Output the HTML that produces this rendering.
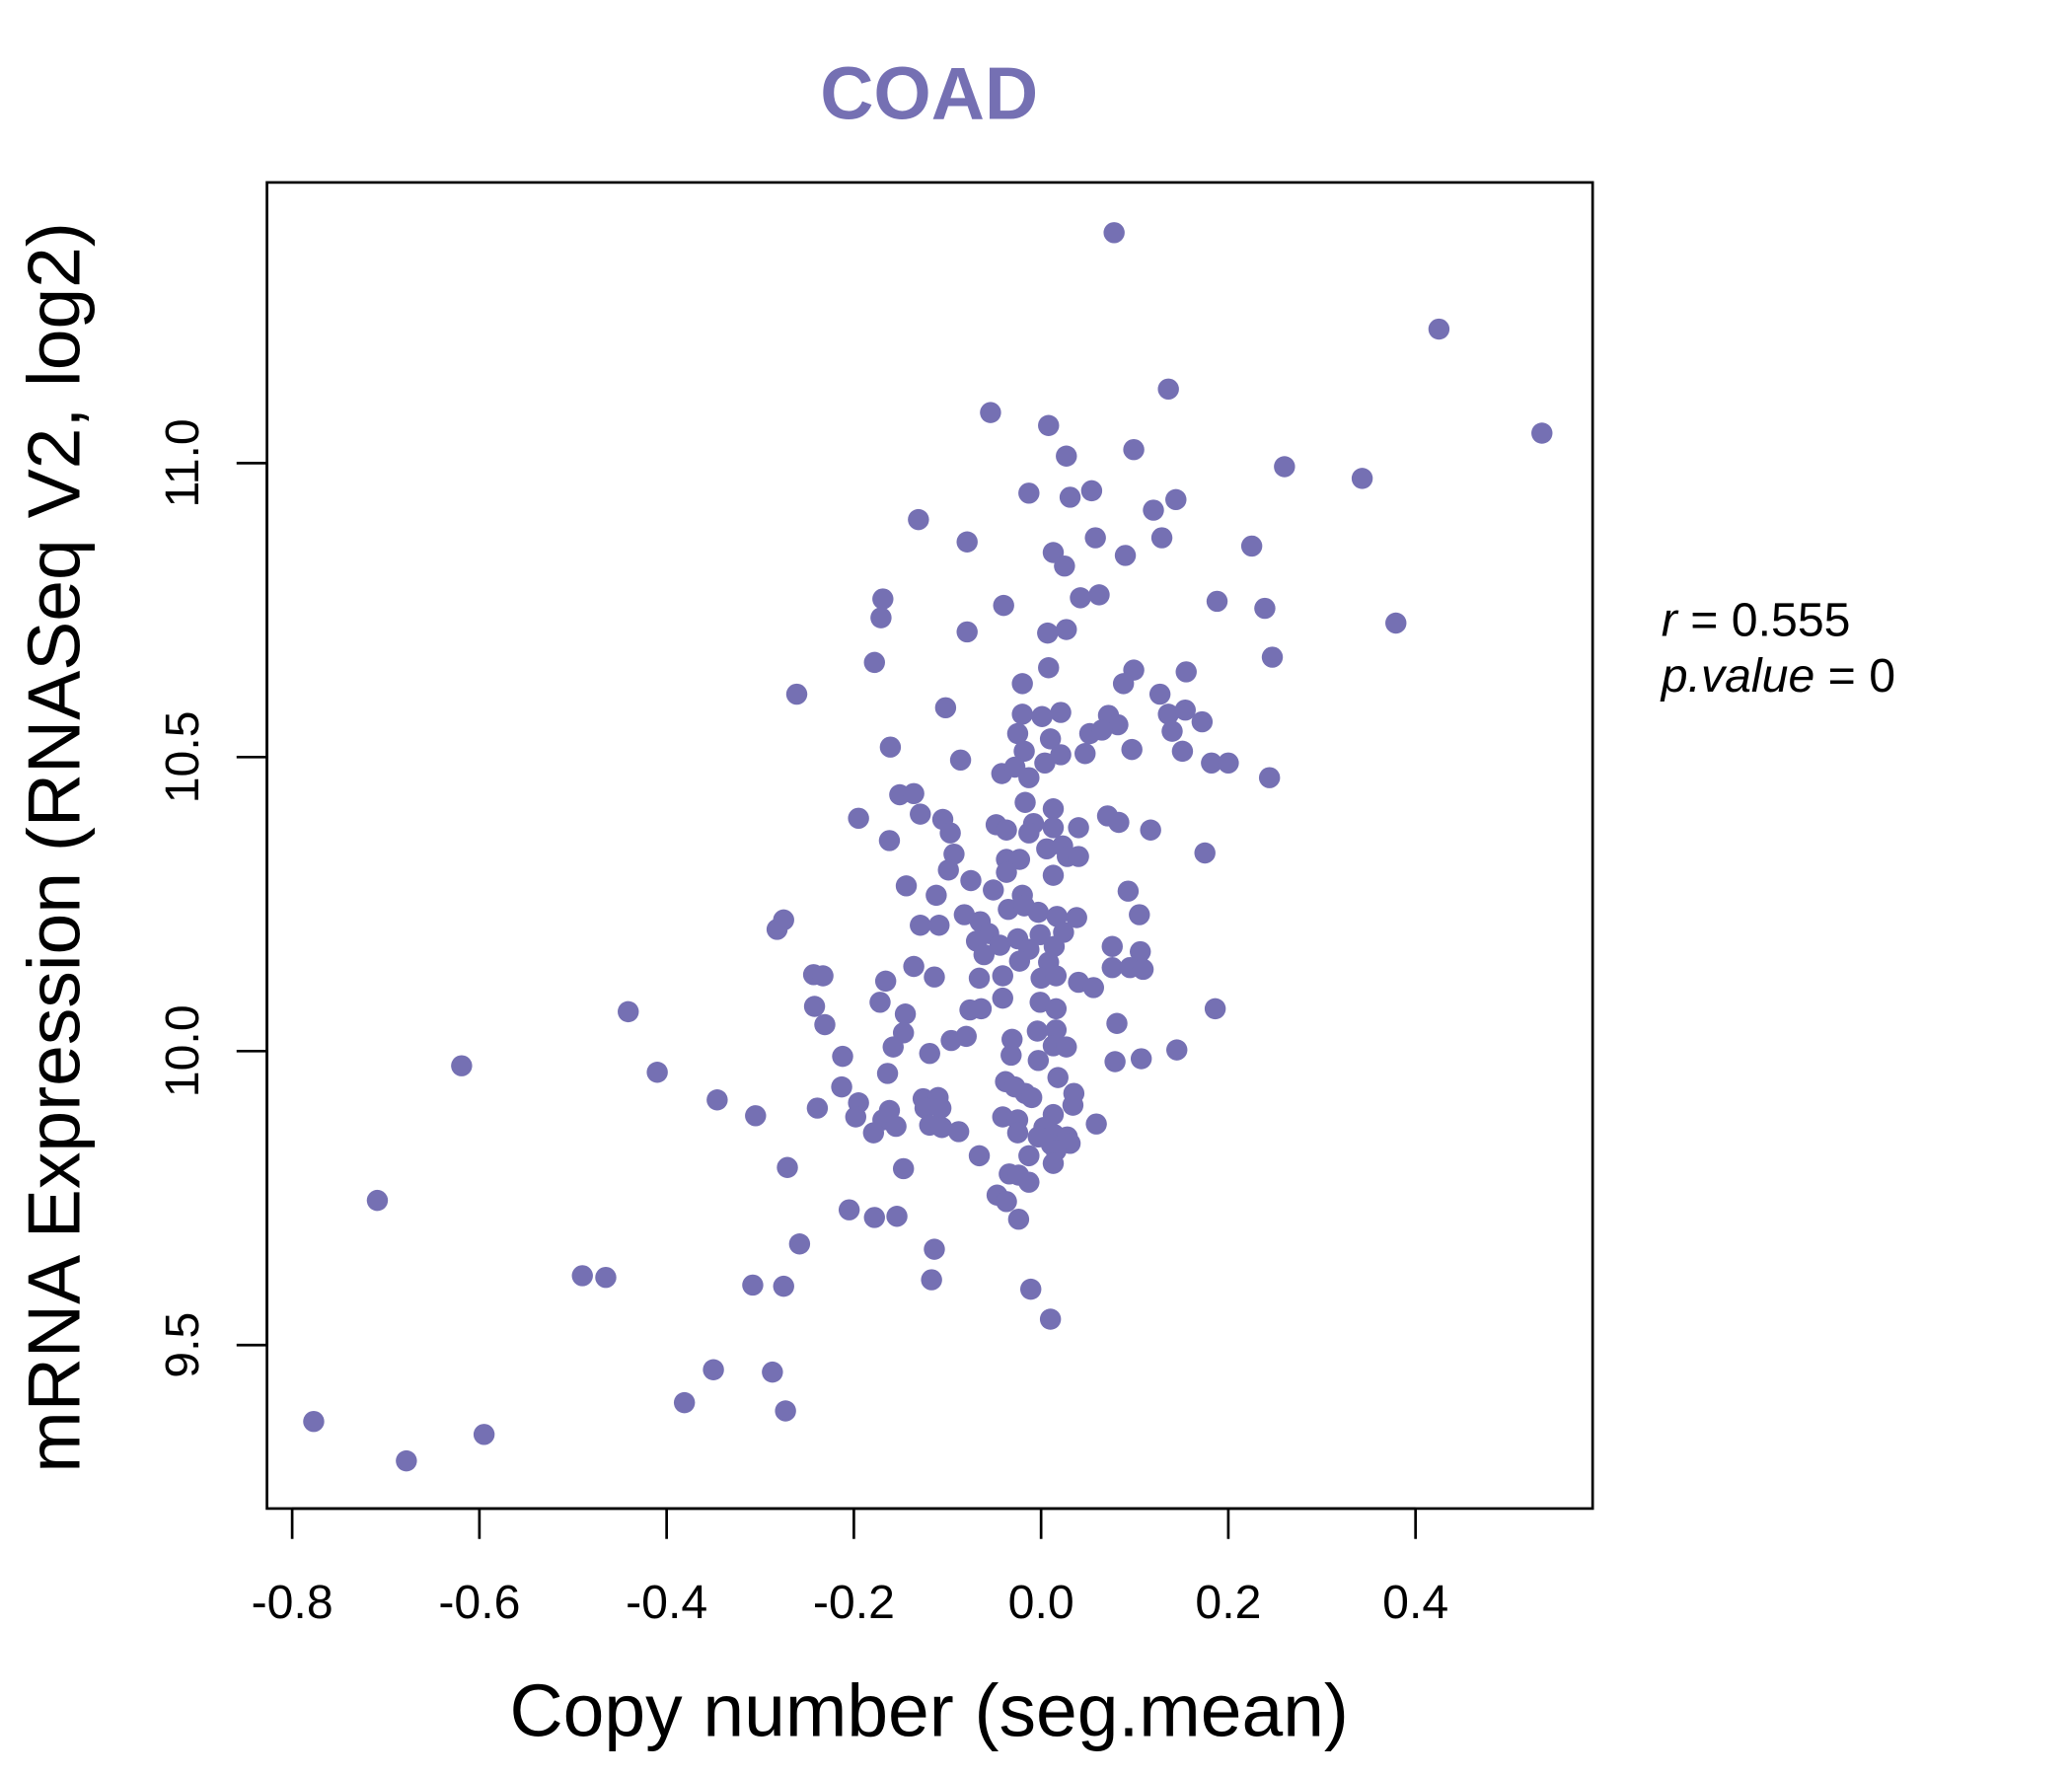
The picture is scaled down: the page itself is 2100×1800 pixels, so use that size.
<!DOCTYPE html>
<html><head><meta charset="utf-8"><style>
html,body{margin:0;padding:0;background:#fff;}
svg{display:block;font-family:"Liberation Sans",sans-serif;}
</style></head><body>
<svg id="chart" width="2100" height="1800" viewBox="0 0 1567.7 1343.3" preserveAspectRatio="none" xmlns="http://www.w3.org/2000/svg">
<text x="703" y="90" text-anchor="middle" font-size="56" font-weight="bold" fill="#7570B3">COAD</text>
<rect x="202" y="138" width="1003" height="1003" fill="none" stroke="#000" stroke-width="2"/>
<g id="xaxis"></g>
<g id="yaxis"></g>
<g id="points"></g>
<text x="703" y="1313" text-anchor="middle" font-size="56">Copy number (seg.mean)</text>
<text transform="translate(60,641) rotate(-90)" text-anchor="middle" font-size="56">mRNA Expression (RNASeq V2, log2)</text>
<text x="1257" y="481" font-size="36"><tspan font-style="italic">r</tspan> = 0.555</text>
<text x="1257" y="523" font-size="36"><tspan font-style="italic">p.value</tspan> = 0</text>
</svg>
<script>
const xTicks = [-0.8,-0.6,-0.4,-0.2,0.0,0.2,0.4];
const xTickLabels = ["-0.8","-0.6","-0.4","-0.2","0.0","0.2","0.4"];
const yTicks = [9.5,10.0,10.5,11.0];
const yTickLabels = ["9.5","10.0","10.5","11.0"];
const xs = [.078,.425,.535,.136,-.054,.008,.027,.099,.26,.343,-.013,.031,.054,.144,.12,-.131,-.079,.013,.058,.09,.129,.225,.025,-.169,-.171,-.04,.042,.062,.188,.239,.379,-.079,.007,.027,-.178,.008,.099,.155,.247,-.261,-.02,.088,.127,-.102,-.02,.001,.021,.072,.082,.136,.154,.172,-.025,.01,.052,.065,.14,-.161,-.018,.021,.047,.097,.151,-.086,.004,.182,.2,.244,-.042,-.028,-.013,-.151,-.136,-.017,.013,-.195,-.129,-.105,-.048,-.008,.071,.083,.117,-.162,-.097,-.037,.013,.04,-.013,-.093,.006,.023,.028,.04,.175,-.037,-.023,-.099,.013,-.144,-.075,-.037,.093,-.112,-.051,-.02,-.275,-.282,-.109,-.129,-.082,-.065,-.035,-.018,-.003,.017,.038,.105,-.056,-.044,-.025,-.001,.024,-.069,-.013,.014,.076,.106,-.061,-.023,-.136,.008,.076,.095,.109,-.243,-.233,-.166,-.114,-.066,-.041,0,.016,.04,.056,-.172,-.041,-.242,-.145,-.076,-.064,-.001,.016,-.441,.186,-.231,-.147,-.096,-.08,-.031,-.004,.016,.081,-.158,.013,.027,.145,-.212,-.119,-.032,-.003,.079,.107,-.619,-.41,-.164,.018,-.038,-.213,-.028,-.017,-.01,.035,-.346,-.195,-.126,-.11,-.239,-.162,-.124,-.107,.013,.034,-.305,-.198,-.169,-.041,-.025,-.119,-.155,.059,-.179,-.106,-.088,-.025,.003,-.003,.014,.028,.011,.031,-.013,.016,-.066,-.271,-.147,.013,-.034,-.024,-.013,-.709,-.047,-.037,-.205,-.178,-.154,-.024,-.258,-.114,-.49,-.465,-.308,-.275,-.117,-.011,.01,-.35,-.287,-.381,-.273,-.777,-.595,-.678];
const ys = [11.392,11.228,11.051,11.126,11.086,11.064,11.012,11.023,10.994,10.974,10.949,10.942,10.953,10.938,10.92,10.904,10.866,10.848,10.873,10.843,10.873,10.859,10.825,10.769,10.737,10.758,10.771,10.776,10.765,10.753,10.728,10.713,10.711,10.717,10.661,10.652,10.648,10.645,10.67,10.607,10.625,10.625,10.607,10.584,10.573,10.569,10.576,10.571,10.555,10.573,10.58,10.56,10.54,10.531,10.54,10.546,10.544,10.517,10.51,10.504,10.506,10.513,10.51,10.495,10.49,10.49,10.49,10.465,10.472,10.483,10.465,10.436,10.438,10.423,10.412,10.396,10.403,10.394,10.385,10.387,10.4,10.389,10.376,10.358,10.371,10.376,10.38,10.38,10.371,10.335,10.344,10.349,10.331,10.331,10.337,10.326,10.326,10.308,10.299,10.281,10.29,10.304,10.272,10.265,10.274,10.265,10.223,10.207,10.214,10.214,10.232,10.22,10.241,10.247,10.236,10.229,10.227,10.232,10.2,10.18,10.191,10.198,10.202,10.187,10.173,10.178,10.178,10.169,10.164,10.153,10.144,10.151,10.142,10.142,10.139,10.13,10.128,10.119,10.126,10.124,10.128,10.124,10.128,10.117,10.108,10.083,10.09,10.076,10.063,10.07,10.072,10.083,10.072,10.067,10.072,10.045,10.031,10.018,10.025,10.02,10.034,10.036,10.047,10.007,10.009,10.007,10.002,9.991,9.996,9.993,9.984,9.982,9.987,9.975,9.964,9.962,9.955,9.948,9.939,9.939,9.928,9.921,9.928,9.917,9.912,9.919,9.921,9.903,9.899,9.903,9.903,9.892,9.908,9.89,9.888,9.883,9.888,9.883,9.874,9.872,9.876,9.861,9.87,9.863,9.861,9.87,9.854,9.858,9.854,9.841,9.843,9.822,9.831,9.822,9.802,9.8,9.809,9.791,9.789,9.777,9.746,9.755,9.744,9.73,9.717,9.719,9.714,9.672,9.663,9.618,9.615,9.602,9.6,9.611,9.595,9.544,9.458,9.454,9.402,9.388,9.37,9.348,9.303];

const NS = "http://www.w3.org/2000/svg";
function xScale(v){ return 787.7 + v * 708.3; }
function yScale(v){ return 795 - (v - 10) * 444.7; }

const xg = document.getElementById('xaxis');
const xl = document.createElementNS(NS,'line');


xl.setAttribute('x1',xScale(xTicks[0])); xl.setAttribute('x2',xScale(xTicks[xTicks.length-1]));
xl.setAttribute('y1',1141); xl.setAttribute('y2',1141);
xl.setAttribute('stroke','#000'); xl.setAttribute('stroke-width','2');
xg.appendChild(xl);
xTicks.forEach((t,i)=>{
  const l = document.createElementNS(NS,'line');
  
  
  l.setAttribute('x1',xScale(t)); l.setAttribute('x2',xScale(t));
  l.setAttribute('y1',1141); l.setAttribute('y2',1164);
  l.setAttribute('stroke','#000'); l.setAttribute('stroke-width','2');
  xg.appendChild(l);
  const tx = document.createElementNS(NS,'text');
  
  
  tx.setAttribute('x',xScale(t)); tx.setAttribute('y',1224);
  tx.setAttribute('text-anchor','middle'); tx.setAttribute('font-size','36');
  tx.textContent = xTickLabels[i];
  xg.appendChild(tx);
});

const yg = document.getElementById('yaxis');
const yl = document.createElementNS(NS,'line');


yl.setAttribute('x1',202); yl.setAttribute('x2',202);
yl.setAttribute('y1',yScale(yTicks[0])); yl.setAttribute('y2',yScale(yTicks[yTicks.length-1]));
yl.setAttribute('stroke','#000'); yl.setAttribute('stroke-width','2');
yg.appendChild(yl);
yTicks.forEach((t,i)=>{
  const l = document.createElementNS(NS,'line');
  
  
  l.setAttribute('x1',179); l.setAttribute('x2',202);
  l.setAttribute('y1',yScale(t)); l.setAttribute('y2',yScale(t));
  l.setAttribute('stroke','#000'); l.setAttribute('stroke-width','2');
  yg.appendChild(l);
  const tx = document.createElementNS(NS,'text');
  
  
  tx.setAttribute('transform','translate(150,'+yScale(t)+') rotate(-90)');
  tx.setAttribute('text-anchor','middle'); tx.setAttribute('font-size','36');
  tx.textContent = yTickLabels[i];
  yg.appendChild(tx);
});

const pg = document.getElementById('points');
xs.forEach((x,i)=>{
  const c = document.createElementNS(NS,'circle');
  
  
  c.setAttribute('cx',xScale(x)); c.setAttribute('cy',yScale(ys[i]));
  c.setAttribute('r',8);
  c.setAttribute('fill','#7570B3');
  pg.appendChild(c);
});
</script>
</body></html>
